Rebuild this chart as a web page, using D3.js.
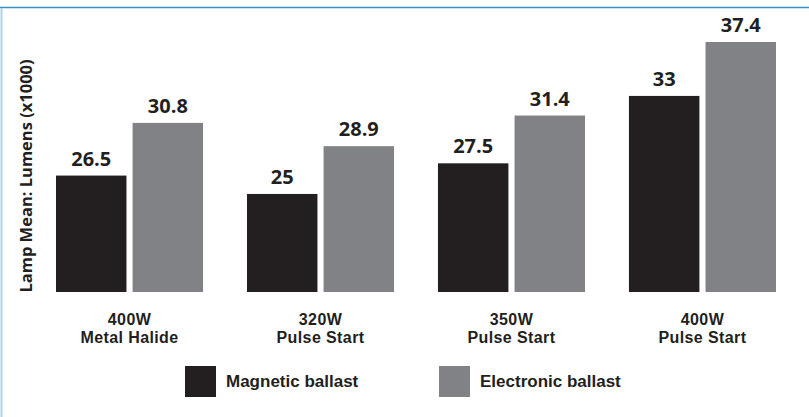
<!DOCTYPE html>
<html>
<head>
<meta charset="utf-8">
<script src="https://cdn.jsdelivr.net/npm/d3@7"></script>
<style>
  body { margin: 0; background: #fff; }
  svg { display: block; }
  .val { font-family: "Open Sans", sans-serif; font-weight: 700; font-size: 20px; fill: #231f20; }
  .cat { font-family: "Liberation Sans", Arial, sans-serif; font-weight: 700; font-size: 16px; letter-spacing: 0.4px; fill: #231f20; }
  .ylab { font-family: "Open Sans", sans-serif; font-weight: 700; font-size: 16.5px; fill: #231f20; }
  .leg { font-family: "Liberation Sans", Arial, sans-serif; font-weight: 700; font-size: 17px; fill: #231f20; }
</style>
</head>
<body>
<div id="chart"></div>
<script>
// data
var categories = ["400W|Metal Halide", "320W|Pulse Start", "350W|Pulse Start", "400W|Pulse Start"];
var seriesNames = ["Magnetic ballast", "Electronic ballast"];
var magnetic = [26.5, 25, 27.5, 33];
var electronic = [30.8, 28.9, 31.4, 37.4];
var colors = ["#231f20", "#808285"];

var W = 809, H = 417;
var svg = d3.select("#chart").append("svg").attr("width", W).attr("height", H);

// frame
svg.append("line").attr("x1", 0).attr("x2", W).attr("y1", 7.5).attr("y2", 7.5)
  .attr("stroke", "#3b8ec2").attr("stroke-width", 1.6);
svg.append("line").attr("x1", 1.5).attr("x2", 1.5).attr("y1", 8).attr("y2", H)
  .attr("stroke", "#a9d4ec").attr("stroke-width", 2);

var x0 = d3.scaleBand().domain(categories).range([56, 776]).paddingInner(0.23).paddingOuter(0);
var x1 = d3.scaleBand().domain(seriesNames).range([0, x0.bandwidth()]).paddingInner(0.08);
// value axis does not start at zero in the original
var y = d3.scaleLinear().domain([17, 37.4]).range([292, 42]);

var rows = categories.map(function(c, i) {
  return {cat: c, vals: [{s: seriesNames[0], v: magnetic[i], c: colors[0]}, {s: seriesNames[1], v: electronic[i], c: colors[1]}]};
});

var g = svg.selectAll("g.grp").data(rows).enter().append("g").attr("class", "grp")
  .attr("transform", function(d) { return "translate(" + x0(d.cat) + ",0)"; });

g.selectAll("rect").data(function(d) { return d.vals; }).enter().append("rect")
  .attr("x", function(d) { return x1(d.s); })
  .attr("width", x1.bandwidth())
  .attr("y", function(d) { return y(d.v); })
  .attr("height", function(d) { return y.range()[0] - y(d.v); })
  .attr("fill", function(d) { return d.c; });

g.selectAll("text.val").data(function(d) { return d.vals; }).enter().append("text").attr("class", "val")
  .attr("x", function(d) { return x1(d.s) + x1.bandwidth() / 2; })
  .attr("y", function(d) { return y(d.v) - 10; })
  .attr("text-anchor", "middle")
  .text(function(d) { return d.v; });

// category labels, one text per line
g.selectAll("text.cat").data(function(d) { return d.cat.split("|"); }).enter().append("text").attr("class", "cat")
  .attr("text-anchor", "middle")
  .attr("x", x0.bandwidth() / 2)
  .attr("y", function(d, i) { return 325 + i * 18; })
  .text(function(d) { return d; });

// y axis title
svg.append("text").attr("class", "ylab")
  .attr("transform", "translate(32,176) rotate(-90)")
  .attr("text-anchor", "middle")
  .text("Lamp Mean: Lumens (x1000)");

// legend
var legX = d3.scaleOrdinal().domain(seriesNames).range([185, 439]);
var leg = svg.selectAll("g.leg").data(seriesNames).enter().append("g").attr("class", "leg")
  .attr("transform", function(d) { return "translate(" + legX(d) + ",366)"; });
leg.append("rect").attr("width", 31).attr("height", 31)
  .attr("fill", function(d, i) { return colors[i]; });
leg.append("text").attr("class", "leg").attr("x", 41).attr("y", 21).text(function(d) { return d; });
</script>
</body>
</html>
